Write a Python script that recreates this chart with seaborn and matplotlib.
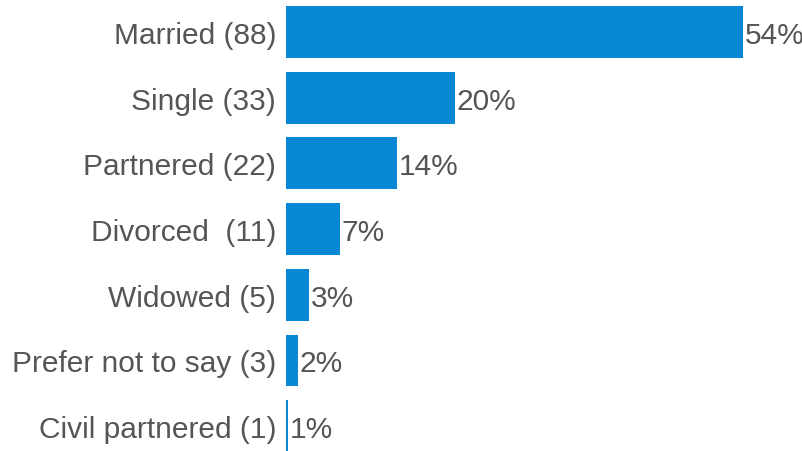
import matplotlib
matplotlib.use('Agg')
import matplotlib.pyplot as plt
import seaborn as sns
import pandas as pd

categories = ['Married (88)', 'Single (33)', 'Partnered (22)', 'Divorced  (11)',
              'Widowed (5)', 'Prefer not to say (3)', 'Civil partnered (1)']
bar_values = [54.0, 20.0, 13.1, 6.4, 2.7, 1.4, 0.25]
pct_labels = ['54%', '20%', '14%', '7%', '3%', '2%', '1%']

df = pd.DataFrame({'status': categories, 'pct': bar_values, 'label': pct_labels})

sns.set_style('white')
plt.rcParams['font.family'] = ['Liberation Sans', 'DejaVu Sans']

text_color = '#555555'
bar_color = '#0788D4'

fig = plt.figure(figsize=(8.03, 4.52), dpi=100)
ax = fig.add_axes([0.356, 0.0, 0.644, 1.0])

sns.barplot(data=df, x='pct', y='status', color=bar_color, width=0.79,
            saturation=1, linewidth=0, ax=ax)

# percentage labels just after each bar
for i, row in df.iterrows():
    ax.text(row['pct'] + 0.2, i, row['label'], va='center_baseline', ha='left',
            fontsize=21.5, color=text_color)

ax.set_xlim(0, 61.1)
ax.set_ylim(6.378, -0.502)
ax.set_xlabel('')
ax.set_ylabel('')
ax.set_xticks([])
ax.tick_params(axis='y', length=0, pad=7, labelsize=21.5, labelcolor=text_color)
for lab in ax.get_yticklabels():
    lab.set_verticalalignment('center_baseline')
sns.despine(ax=ax, left=True, bottom=True)

fig.savefig('out.png', dpi=100)
